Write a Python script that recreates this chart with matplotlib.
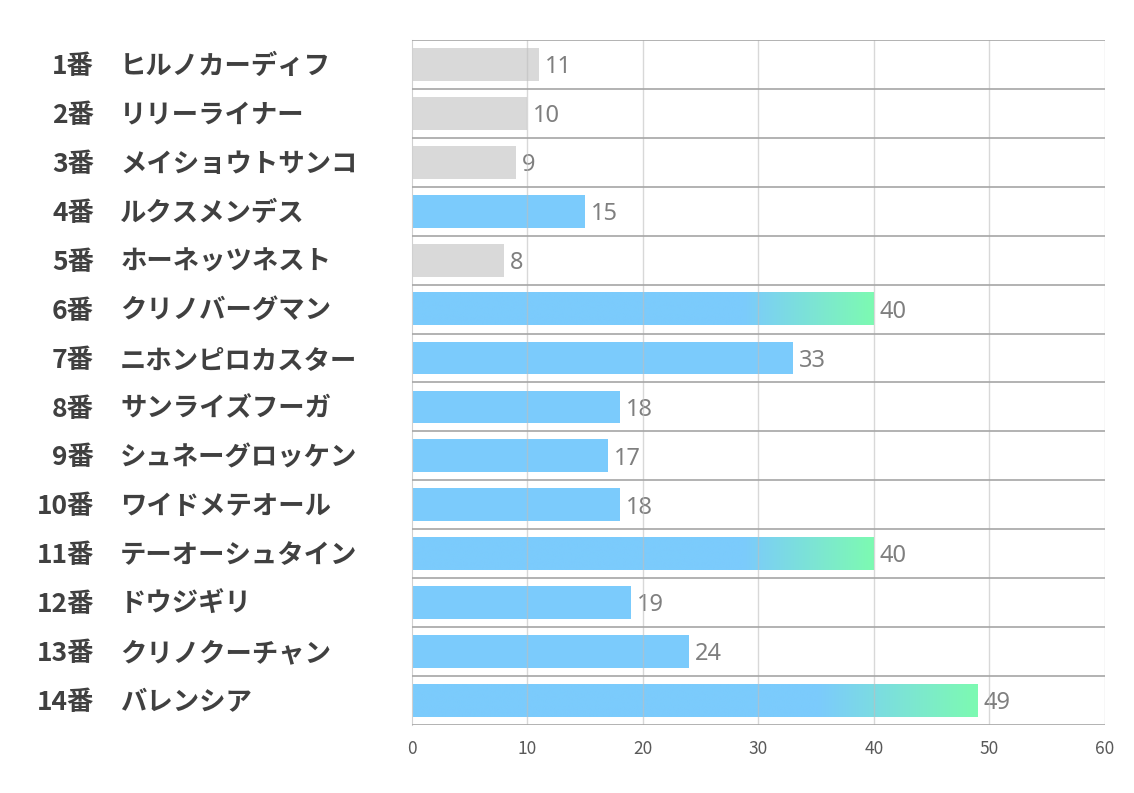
import numpy as np
import matplotlib
matplotlib.use('Agg')
import matplotlib.pyplot as plt
import matplotlib.transforms as mtransforms
from matplotlib.colors import LinearSegmentedColormap

plt.rcParams['font.family'] = ['Noto Sans CJK JP', 'DejaVu Sans']

# --- data ---
numbers = ['1番', '2番', '3番', '4番', '5番', '6番', '7番', '8番', '9番', '10番',
           '11番', '12番', '13番', '14番']
names = ['ヒルノカーディフ', 'リリーライナー', 'メイショウトサンコ', 'ルクスメンデス',
         'ホーネッツネスト', 'クリノバーグマン', 'ニホンピロカスター', 'サンライズフーガ',
         'シュネーグロッケン', 'ワイドメテオール', 'テーオーシュタイン', 'ドウジギリ',
         'クリノクーチャン', 'バレンシア']
values = [11, 10, 9, 15, 8, 40, 33, 18, 17, 18, 40, 19, 24, 49]
# 'g' = gray, 'b' = blue, 'h' = blue->green gradient
styles = ['g', 'g', 'g', 'b', 'g', 'h', 'b', 'b', 'b', 'b', 'h', 'b', 'b', 'h']
x_ticks = [0, 10, 20, 30, 40, 50, 60]

gray = '#d9d9d9'
blue = '#7bcbfc'
green = '#7dfab2'
label_col = '#404040'
value_col = '#7f7f7f'

grad_cmap = LinearSegmentedColormap.from_list(
    'bg', [(0.0, blue), (0.72, blue), (1.0, green)])


def main():
    fig = plt.figure(figsize=(11.34, 7.93), dpi=100)
    ax = fig.add_axes([0.3633, 0.0858, 0.6111, 0.8638])

    n = len(values)
    y = np.arange(n)
    h = 0.67

    for i, (v, s) in enumerate(zip(values, styles)):
        if s == 'h':
            grad = np.linspace(0, 1, 256).reshape(1, -1)
            ax.imshow(grad, cmap=grad_cmap, aspect='auto', zorder=2,
                      extent=(0, v, y[i] + h / 2, y[i] - h / 2),
                      interpolation='bilinear')
        else:
            ax.barh(y[i], v, height=h, color=gray if s == 'g' else blue,
                    zorder=2, linewidth=0)
        ax.annotate(str(v), xy=(v, y[i]), xytext=(4, -2), textcoords='offset points',
                    va='center', ha='left', fontsize=17, color=value_col,
                    family=['Noto Sans', 'DejaVu Sans'])

    ax.set_xlim(0, 60)
    ax.set_ylim(n - 0.5, -0.5)
    ax.set_aspect('auto')

    # vertical grid (drawn over bars, faint)
    for t in x_ticks[1:]:
        ax.axvline(t, color='#bfbfbf', alpha=0.6, lw=1, zorder=3)
    # row separators
    for b in np.arange(n + 1) - 0.5:
        ax.axhline(b, color='#a6a6a6', lw=1.2, zorder=3)

    for side in ['top', 'right', 'bottom']:
        ax.spines[side].set_visible(False)
    ax.spines['left'].set_color('#d0d0d0')

    ax.set_xticks(x_ticks)
    ax.set_xticklabels([str(t) for t in x_ticks])
    ax.tick_params(axis='x', length=0, pad=11, labelsize=12.5, labelcolor='#595959')
    ax.set_yticks([])

    # row labels at the left, nudged down a touch
    trans = mtransforms.blended_transform_factory(fig.transFigure, ax.transData)
    trans = trans + mtransforms.ScaledTranslation(0, -1.5 / 72, fig.dpi_scale_trans)
    for i in range(n):
        ax.text(0.083, y[i], numbers[i], transform=trans, ha='right', va='center',
                fontsize=19, fontweight='bold', color=label_col, clip_on=False)
        ax.text(0.106, y[i], names[i], transform=trans, ha='left', va='center',
                fontsize=19, fontweight='bold', color=label_col, clip_on=False)

    fig.savefig('out.png', dpi=100, facecolor='white')


if __name__ == '__main__':
    main()
